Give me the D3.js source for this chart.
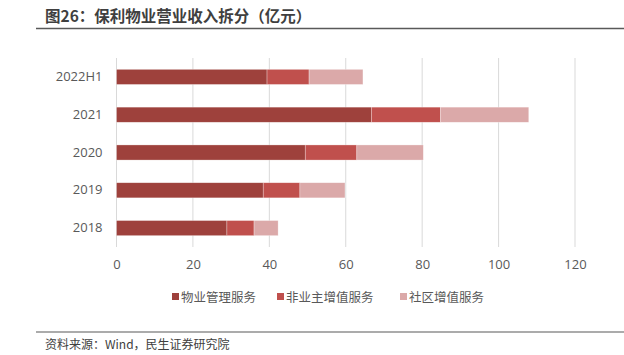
<!DOCTYPE html>
<html><head><meta charset="utf-8">
<script src="https://cdn.jsdelivr.net/npm/d3@7"></script>
<style>
html,body{margin:0;padding:0;background:#fff;}
svg{display:block;}
</style></head>
<body>
<svg id="chart" width="624" height="355"></svg>
<script>
const categories = ["2022H1","2021","2020","2019","2018"];
const seriesNames = ["物业管理服务","非业主增值服务","社区增值服务"];
const propertyMgmt = [39.4, 66.7, 49.4, 38.4, 28.9];
const nonOwnerVAS = [11.0, 18.1, 13.5, 9.6, 7.1];
const communityVAS = [14.1, 23.1, 17.4, 11.8, 6.3];
const xTicks = [0,20,40,60,80,100,120];
const colors = ["#9E413C","#C0504D","#DBA9A9"];

const svg = d3.select("#chart");
const latin = "'Open Sans','Noto Sans CJK SC',sans-serif";
const cjk = "'Noto Sans CJK SC','Open Sans',sans-serif";

// title
svg.append("text").attr("x",45).attr("y",22).attr("font-family",cjk)
  .attr("font-weight","bold").attr("font-size",15.5).attr("fill","#3f3f3f")
  .text("图26：保利物业营业收入拆分（亿元）");
svg.append("line").attr("x1",36).attr("x2",624).attr("y1",28.5).attr("y2",28.5)
  .attr("stroke","#595959").attr("stroke-width",1.5);

const x = d3.scaleLinear().domain([0,120]).range([116.5,575]);
const y = d3.scaleBand().domain(categories).range([58,247]).paddingInner(0.6).paddingOuter(0.3);

// gridlines
svg.append("g").selectAll("line").data(xTicks).join("line")
  .attr("x1",d=>x(d)).attr("x2",d=>x(d)).attr("y1",58).attr("y2",247)
  .attr("stroke","#d9d9d9").attr("stroke-width",1);

const table = categories.map((c,i)=>({cat:c, s0:propertyMgmt[i], s1:nonOwnerVAS[i], s2:communityVAS[i]}));
const stack = d3.stack().keys(["s0","s1","s2"])(table);

svg.append("g").selectAll("g").data(stack).join("g")
  .attr("fill",(d,i)=>colors[i])
  .selectAll("rect").data(d=>d).join("rect")
  .attr("x",d=>x(d[0])).attr("width",d=>x(d[1])-x(d[0]))
  .attr("y",d=>y(d.data.cat)).attr("height",y.bandwidth())
  .attr("stroke","#ffffff").attr("stroke-opacity",0.5).attr("stroke-width",0.6);

// y labels
const yAxis = d3.axisLeft(y).tickSize(0).tickPadding(14);
const gy = svg.append("g").attr("transform",`translate(${x(0)},0)`).call(yAxis);
gy.select(".domain").remove();
gy.selectAll("text").attr("font-family",latin).attr("font-size",13).attr("fill","#595959");

// x labels
const xAxis = d3.axisBottom(x).tickValues(xTicks).tickSize(0).tickPadding(13);
const gx = svg.append("g").attr("transform","translate(0,247)").call(xAxis);
gx.select(".domain").remove();
gx.selectAll("text").attr("font-family",latin).attr("font-size",13).attr("fill","#595959");

// legend
const legendX = [172, 277, 400];
const lg = svg.append("g").selectAll("g").data(seriesNames).join("g")
  .attr("transform",(d,i)=>`translate(${legendX[i]},297)`);
lg.append("rect").attr("x",0).attr("y",-4).attr("width",7).attr("height",7).attr("fill",(d,i)=>colors[i]);
lg.append("text").attr("x",9).attr("y",0).attr("dy","0.36em").attr("font-family",cjk)
  .attr("font-size",12.5).attr("fill","#595959").text(d=>d);

// footer
svg.append("line").attr("x1",36).attr("x2",624).attr("y1",332).attr("y2",332)
  .attr("stroke","#595959").attr("stroke-width",1.2);
svg.append("text").attr("x",45).attr("y",345).attr("dy","0.36em").attr("font-family",cjk)
  .attr("font-size",12).attr("fill","#404040").text("资料来源：Wind，民生证券研究院");
</script>
</body></html>
